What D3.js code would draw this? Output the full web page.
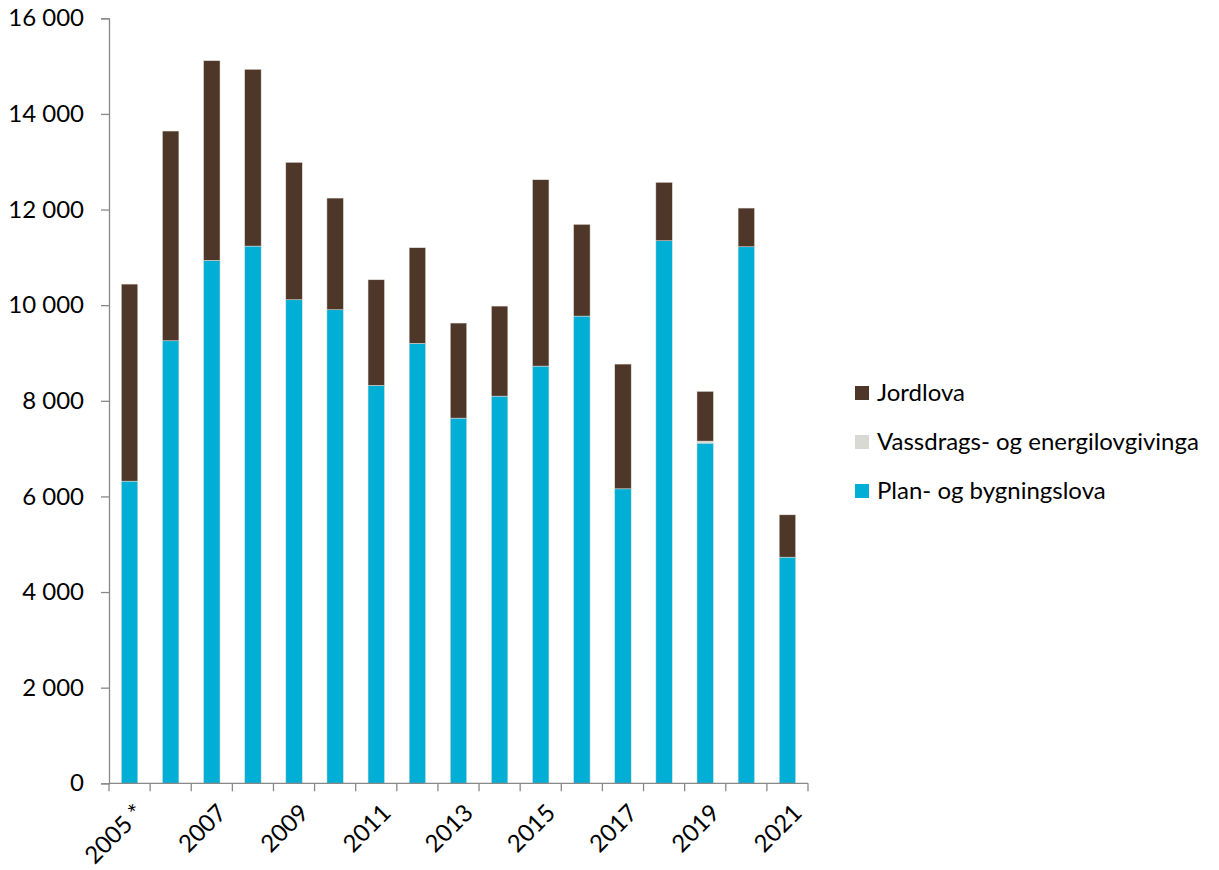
<!DOCTYPE html>
<html>
<head>
<meta charset="utf-8">
<script src="https://cdn.jsdelivr.net/npm/d3@7"></script>
<style>
  html, body { margin: 0; padding: 0; background: #fff; }
  svg { display: block; }
  text { font-family: Lato, "Open Sans", sans-serif; fill: #000; }
</style>
</head>
<body>
<svg id="chart" width="1219" height="870"></svg>
<script>
const years = ["2005 *","2006","2007","2008","2009","2010","2011","2012","2013","2014","2015","2016","2017","2018","2019","2020","2021"];
const planOgBygningslova = [6320,9255,10937,11236,10113,9904,8322,9201,7638,8098,8726,9772,6159,11347,7115,11221,4730];
const vassdragsOgEnergi = [0,0,0,0,0,0,0,0,0,0,0,0,0,0,42,0,0];
const jordlova = [4121,4387,4176,3697,2874,2336,2209,2000,1988,1883,3897,1918,2609,1222,1040,810,885];
const yTicks = [0,2000,4000,6000,8000,10000,12000,14000,16000];
const seriesNames = ["Plan- og bygningslova","Vassdrags- og energilovgivinga","Jordlova"];
const seriesColors = ["#00AED6","#D9D9D4","#4E3629"];
const legendOrder = ["Jordlova","Vassdrags- og energilovgivinga","Plan- og bygningslova"];

const FS = 24;
const svg = d3.select("#chart");
const x = d3.scaleBand().domain(years).range([109, 808]).paddingInner(0.6).paddingOuter(0.3);
const y = d3.scaleLinear().domain([0,16000]).range([783.3, 18.3]);

const rows = years.map((yr,i) => ({
  year: yr,
  "Plan- og bygningslova": planOgBygningslova[i],
  "Vassdrags- og energilovgivinga": vassdragsOgEnergi[i],
  "Jordlova": jordlova[i]
}));
const stacked = d3.stack().keys(seriesNames)(rows);
const color = d3.scaleOrdinal().domain(seriesNames).range(seriesColors);

// bars
svg.append("g").selectAll("g").data(stacked).join("g")
  .attr("fill", d => color(d.key))
  .selectAll("rect").data(d => d).join("rect")
  .attr("x", d => x(d.data.year))
  .attr("width", x.bandwidth())
  .attr("y", d => y(d[1]))
  .attr("height", d => Math.max(0, y(d[0]) - y(d[1])))
  .attr("stroke", "#e6e2dc").attr("stroke-width", 0.5);

// y axis
const yAxis = d3.axisLeft(y).tickValues(yTicks).tickSize(8).tickPadding(17)
  .tickFormat(d => d3.format(",")(d).replace(/,/g, " "));
const gy = svg.append("g").attr("transform", "translate(109,0)").call(yAxis);
gy.select(".domain").attr("stroke", "#888").attr("stroke-width", 1.3);
gy.selectAll(".tick line").attr("stroke", "#888").attr("stroke-width", 1.3);
gy.selectAll("text").attr("font-size", FS).attr("font-family", "Lato, sans-serif").attr("fill", "#000");

// x axis
const gx = svg.append("g").attr("transform", "translate(0,783.3)");
gx.append("line").attr("x1", 109).attr("x2", 808).attr("stroke", "#888").attr("stroke-width", 1.3);
const boundaries = d3.range(years.length + 1).map(i => 109 + i * (808 - 109) / years.length);
gx.selectAll("line.tk").data(boundaries).join("line").attr("class","tk")
  .attr("x1", d => d).attr("x2", d => d).attr("y1", 0).attr("y2", 8)
  .attr("stroke", "#888").attr("stroke-width", 1.3);
gx.selectAll("text").data(years.filter((d,i) => i % 2 === 0)).join("text")
  .attr("transform", d => `translate(${x(d) + x.bandwidth()/2 + 16},${31}) rotate(-45)`)
  .attr("text-anchor", "end")
  .attr("font-size", FS)
  .text(d => d);

// legend
const lg = svg.append("g");
legendOrder.forEach((name, i) => {
  const cy = 393 + i * 49;
  lg.append("rect").attr("x", 855).attr("y", cy - 7).attr("width", 14).attr("height", 14)
    .attr("fill", color(name));
  lg.append("text").attr("x", 877).attr("y", cy).attr("dy", "0.35em")
    .attr("font-size", FS).text(name);
});
</script>
</body>
</html>
